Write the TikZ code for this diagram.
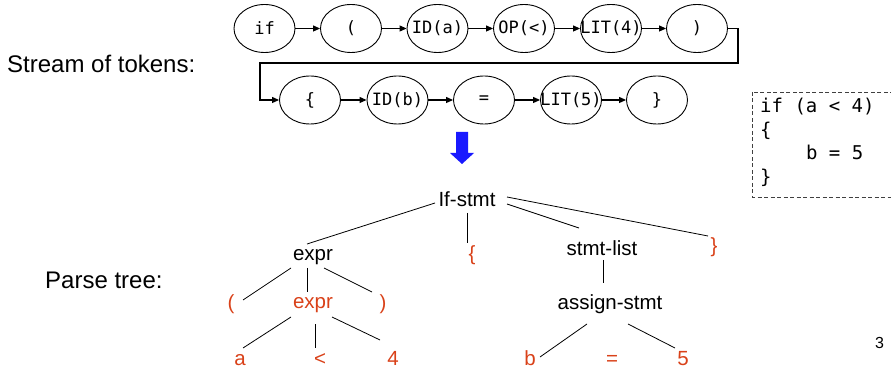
\documentclass[tikz,border=0pt]{standalone}
\usepackage{fontspec}
\setmainfont{Liberation Sans}
\setmonofont{DejaVu Sans Mono}
\usetikzlibrary{arrows.meta,calc,shapes.geometric}
\definecolor{tred}{RGB}{217,65,25}
\definecolor{tblue}{RGB}{25,25,255}
\begin{document}
\begin{tikzpicture}[x=1pt,y=-1pt,
  tok/.style={draw, line width=0.9pt, ellipse, minimum width=61pt, minimum height=48pt, inner sep=0pt},
  tokl/.style={font=\fontsize{17}{17}\ttfamily, inner sep=0pt},
  link/.style={line width=1.1pt, -{Triangle[length=7pt,width=6pt]}},
  tn/.style={inner sep=0pt, anchor=base, font=\fontsize{20.5}{20.5}\selectfont},
  tr/.style={tn, text=tred},
  tedge/.style={line width=0.8pt},
  codel/.style={inner sep=0pt, anchor=base west, font=\fontsize{19}{19}\ttfamily},
  biglabel/.style={inner sep=0pt, anchor=base west, font=\fontsize{24}{24}\selectfont}
  ]
\useasboundingbox (0,0) rectangle (891,371);

% labels
\node[biglabel] (lstream) at (7,73) {Stream of tokens:};
\node[biglabel] (lparse) at (45,288) {Parse tree:};
\node[inner sep=0pt, anchor=base west, font=\fontsize{16}{16}\selectfont] (pnum) at (875,348) {3};

% tokens row 1
\node[tok, label={[tokl]center:{if}}] (t1) at (264.5,28.5) {};
\node[tok, label={[tokl]center:{(}}] (t2) at (351,28.5) {};
\node[tok, label={[tokl]center:{ID(a)}}] (t3) at (437.5,28.5) {};
\node[tok, label={[tokl]center:{OP(<)}}] (t4) at (524,28.5) {};
\node[tok, label={[tokl]center:{LIT(4)}}] (t5) at (611,28.5) {};
\node[tok, label={[tokl]center:{)}}] (t6) at (697,28.5) {};
% tokens row 2
\node[tok, label={[tokl]center:{\{}}] (u1) at (310,100) {};
\node[tok, label={[tokl]center:{ID(b)}}] (u2) at (397.5,100) {};
\node[tok, label={[tokl]center:{=}}] (u3) at (484,100) {};
\node[tok, label={[tokl]center:{LIT(5)}}] (u4) at (571,100) {};
\node[tok, label={[tokl]center:{\}}}] (u5) at (657,100) {};

\draw[link] (t1) -- (t2);
\draw[link] (t2) -- (t3);
\draw[link] (t3) -- (t4);
\draw[link] (t4) -- (t5);
\draw[link] (t5) -- (t6);
\coordinate (c1) at (738,63);
\coordinate (c2) at (260,63);
\draw[link] (t6.east) -| (c1) -- (c2) |- (u1.west);
\draw[link] (u1) -- (u2);
\draw[link] (u2) -- (u3);
\draw[link] (u3) -- (u4);
\draw[link] (u4) -- (u5);

% code box
\draw[dash pattern=on 4pt off 2.5pt, line width=0.9pt, black!75] (752,92) rectangle (900,197);
\node[codel] (k1) at (760,113) {if (a < 4)};
\node[codel] (k2) at (760,136.5) {\{};
\node[codel] (k3) at (805.8,160) {b = 5};
\node[codel] (k4) at (760,183.5) {\}};

% blue arrow
\fill[tblue] (456,132) -- (468,132) -- (468,153) -- (474,153) -- (462,164) -- (450,153) -- (456,153) -- cycle;

% parse tree
\node[tn] (ifs) at (467,207) {If-stmt};
\node[tn] (e1) at (313,261) {expr};
\node[tr] (lb) at (472,260.5) {\{};
\node[tn] (sl) at (602,255) {stmt-list};
\node[tr] (rb) at (714,253) {\}};
\node[tr] (lp) at (231,309) {(};
\node[tr] (e2) at (313,308) {expr};
\node[tr] (rp) at (383,309) {)};
\node[tn] (as) at (610,309) {assign-stmt};
\node[tr] (na) at (240,365) {a};
\node[tr] (nlt) at (320,365) {<};
\node[tr] (nf) at (393,365) {4};
\node[tr] (nb) at (530,365) {b};
\node[tr] (neq) at (612,365) {=};
\node[tr] (nfive) at (683,365) {5};

\draw[tedge] ($(ifs.base)+(-32,-4)$) -- ($(e1.base)+(-6,-17)$);
\draw[tedge] ($(ifs.base)+(0,6)$) -- ($(lb.base)+(-5,-17.5)$);
\draw[tedge] ($(ifs.base)+(40,-3)$) -- ($(sl.base)+(-23,-27)$);
\draw[tedge] ($(ifs.base)+(40,-10)$) -- ($(rb.base)+(-6,-17)$);
\draw[tedge] ($(e1.base)+(-22,7)$) -- ($(lp.base)+(12,-9)$);
\draw[tedge] ($(e1.base)+(-6,7)$) -- ($(e2.base)+(-6,-16)$);
\draw[tedge] ($(e1.base)+(11,7)$) -- ($(rp.base)+(-11,-17)$);
\draw[tedge] ($(e2.base)+(-22,9)$) -- ($(na.base)+(3,-17)$);
\draw[tedge] ($(e2.base)+(2,16)$) -- ($(nlt.base)+(-5,-17)$);
\draw[tedge] ($(e2.base)+(19,9)$) -- ($(nf.base)+(-13,-25)$);
\draw[tedge] ($(sl.base)+(1,5)$) -- ($(as.base)+(-7,-26)$);
\draw[tedge] ($(as.base)+(-23,15)$) -- ($(nb.base)+(10,-8)$);
\draw[tedge] ($(as.base)+(18,15)$) -- ($(nfive.base)+(-8,-17)$);
\end{tikzpicture}
\end{document}
